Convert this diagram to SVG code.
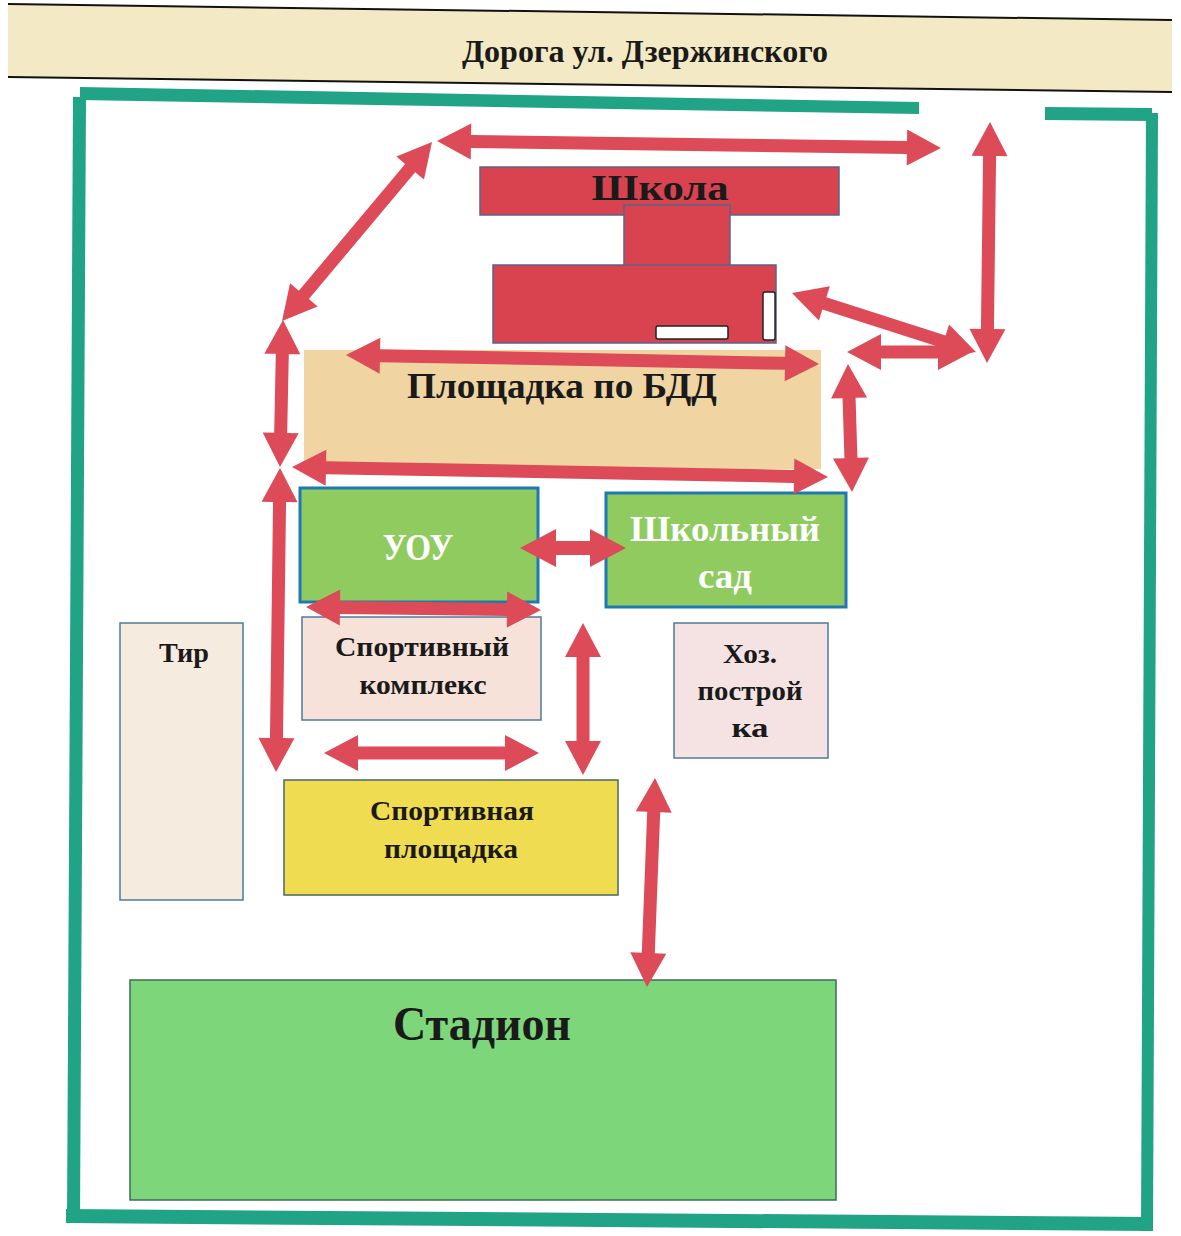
<svg xmlns="http://www.w3.org/2000/svg" width="1181" height="1236" viewBox="0 0 1181 1236">
<style>
.t{font-family:"Liberation Serif","Times New Roman",serif;font-weight:bold;fill:#1a1a1a;text-anchor:middle}
.w{fill:#ffffff}
.frame{fill:#21a386}
.arr{fill:#dc4b57}
.sch{fill:#d8434f;stroke:#5a6488;stroke-width:1.5}
.thin{stroke:#4f7a9c;stroke-width:1.5}
.green{fill:#8fcb5e;stroke:#1e78b4;stroke-width:3}
</style>
<rect x="0" y="0" width="1181" height="1236" fill="#ffffff"/>
<g id="road">
<polygon points="8,4 1172,20 1172,92 8,77" fill="#f3e9c4"/>
<line x1="8" y1="4" x2="1172" y2="20" stroke="#111" stroke-width="2"/>
<line x1="8" y1="77" x2="1172" y2="92" stroke="#111" stroke-width="2"/>
<text class="t" x="645" y="62" font-size="32" textLength="366" lengthAdjust="spacingAndGlyphs">Дорога ул. Дзержинского</text>
</g>
<g id="fence">
<polygon class="frame" points="80,87 919,102 919,114 80,100"/>
<polygon class="frame" points="73,97 86,97 80,1222 67,1222"/>
<polygon class="frame" points="66,1209 1153,1217 1153,1231 66,1223"/>
<polygon class="frame" points="1146,113 1158,113 1153,1231 1141,1231"/>
<polygon class="frame" points="1045,107 1152,108 1152,121 1045,120"/>
</g>
<g id="school">
<rect class="sch" x="480" y="167" width="359" height="48"/>
<rect class="sch" x="624" y="205" width="106" height="62"/>
<rect class="sch" x="493" y="265" width="283" height="78"/>
<rect x="656" y="326" width="72" height="13" fill="#fff" stroke="#222" stroke-width="1.5" rx="2"/>
<rect x="763" y="292" width="12" height="48" fill="#fff" stroke="#222" stroke-width="1.5" rx="2"/>
<text class="t" x="660" y="200" font-size="35" textLength="137" lengthAdjust="spacingAndGlyphs">Школа</text>
</g>
<g id="bdd">
<rect x="304" y="350" width="517" height="119" fill="#f0d5a2"/>
<text class="t" x="562" y="398" font-size="36" textLength="310" lengthAdjust="spacingAndGlyphs">Площадка по БДД</text>
</g>
<g id="uou">
<rect class="green" x="300" y="488" width="238" height="114"/>
<text class="t w" x="418" y="560" font-size="38" textLength="71" lengthAdjust="spacingAndGlyphs">УОУ</text>
</g>
<g id="garden">
<rect class="green" x="606" y="493" width="240" height="114"/>
<text class="t w" x="725" y="541" font-size="35" textLength="190" lengthAdjust="spacingAndGlyphs">Школьный</text>
<text class="t w" x="725" y="588" font-size="35" textLength="54" lengthAdjust="spacingAndGlyphs">сад</text>
</g>
<g id="sportcomplex">
<rect class="thin" x="302" y="617" width="239" height="103" fill="#f6e2d8"/>
<text class="t" x="422" y="656" font-size="28" textLength="174" lengthAdjust="spacingAndGlyphs">Спортивный</text>
<text class="t" x="423" y="694" font-size="28" textLength="127" lengthAdjust="spacingAndGlyphs">комплекс</text>
</g>
<g id="hoz">
<rect class="thin" x="674" y="623" width="154" height="135" fill="#f5e3e3"/>
<text class="t" x="750" y="663" font-size="28" textLength="54" lengthAdjust="spacingAndGlyphs">Хоз.</text>
<text class="t" x="750" y="700" font-size="28" textLength="105" lengthAdjust="spacingAndGlyphs">построй</text>
<text class="t" x="750" y="737" font-size="28" textLength="37" lengthAdjust="spacingAndGlyphs">ка</text>
</g>
<g id="tir">
<rect class="thin" x="120" y="623" width="123" height="277" fill="#f5ecdf"/>
<text class="t" x="184" y="662" font-size="28" textLength="50" lengthAdjust="spacingAndGlyphs">Тир</text>
</g>
<g id="sportground">
<rect x="284" y="780" width="334" height="115" fill="#f0dc50" stroke="#4a6a5a" stroke-width="1.5"/>
<text class="t" x="452" y="820" font-size="28" textLength="164" lengthAdjust="spacingAndGlyphs">Спортивная</text>
<text class="t" x="451" y="858" font-size="28" textLength="134" lengthAdjust="spacingAndGlyphs">площадка</text>
</g>
<g id="stadium">
<rect x="130" y="980" width="706" height="220" fill="#7dd67a" stroke="#3b6e5a" stroke-width="1.5"/>
<text class="t" x="482" y="1040" font-size="48" textLength="178" lengthAdjust="spacingAndGlyphs">Стадион</text>
</g>
<g id="connectors" class="arr">
<path d="M0 0L34 -18L34 -6.5L470 -6.5L470 -18L504 0L470 18L470 6.5L34 6.5L34 18Z" transform="translate(437,141) rotate(0.8)"/>
<path d="M0 0L34 -18L34 -6.5L199.5 -6.5L199.5 -18L233.5 0L199.5 18L199.5 6.5L34 6.5L34 18Z" transform="translate(432,142) rotate(129.96)"/>
<path d="M0 0L34 -18L34 -6.5L207 -6.5L207 -18L241 0L207 18L207 6.5L34 6.5L34 18Z" transform="translate(990,122) rotate(90.71)"/>
<path d="M0 0L34 -18L34 -6.5L159.2 -6.5L159.2 -18L193.2 0L159.2 18L159.2 6.5L34 6.5L34 18Z" transform="translate(792,293) rotate(17.78)"/>
<path d="M0 0L34 -18L34 -6.5L91 -6.5L91 -18L125 0L91 18L91 6.5L34 6.5L34 18Z" transform="translate(847,352)"/>
<path d="M0 0L34 -18L34 -6.5L94 -6.5L94 -18L128 0L94 18L94 6.5L34 6.5L34 18Z" transform="translate(848,364) rotate(88.21)"/>
<path d="M0 0L34 -18L34 -6.5L439.1 -6.5L439.1 -18L473.1 0L439.1 18L439.1 6.5L34 6.5L34 18Z" transform="translate(346,355) rotate(1.09)"/>
<path d="M0 0L34 -18L34 -6.5L502.1 -6.5L502.1 -18L536.1 0L502.1 18L502.1 6.5L34 6.5L34 18Z" transform="translate(292,467) rotate(1.07)"/>
<path d="M0 0L34 -18L34 -6.5L113 -6.5L113 -18L147 0L113 18L113 6.5L34 6.5L34 18Z" transform="translate(283,320) rotate(91.17)"/>
<path d="M0 0L34 -18L34 -6.5L270 -6.5L270 -18L304 0L270 18L270 6.5L34 6.5L34 18Z" transform="translate(280,468) rotate(90.75)"/>
<path d="M0 0L36 -19L36 -7L70 -7L70 -19L106 0L70 19L70 7L36 7L36 19Z" transform="translate(520,548)"/>
<path d="M0 0L34 -18L34 -6.5L201 -6.5L201 -18L235 0L201 18L201 6.5L34 6.5L34 18Z" transform="translate(306,607) rotate(0.73)"/>
<path d="M0 0L34 -18L34 -6.5L181 -6.5L181 -18L215 0L181 18L181 6.5L34 6.5L34 18Z" transform="translate(324,753)"/>
<path d="M0 0L34 -18L34 -6.5L118 -6.5L118 -18L152 0L118 18L118 6.5L34 6.5L34 18Z" transform="translate(583,623) rotate(90)"/>
<path d="M0 0L34 -18L34 -6.5L175.15 -6.5L175.15 -18L209.15 0L175.15 18L175.15 6.5L34 6.5L34 18Z" transform="translate(655,778) rotate(92.19)"/>
</g>
</svg>
